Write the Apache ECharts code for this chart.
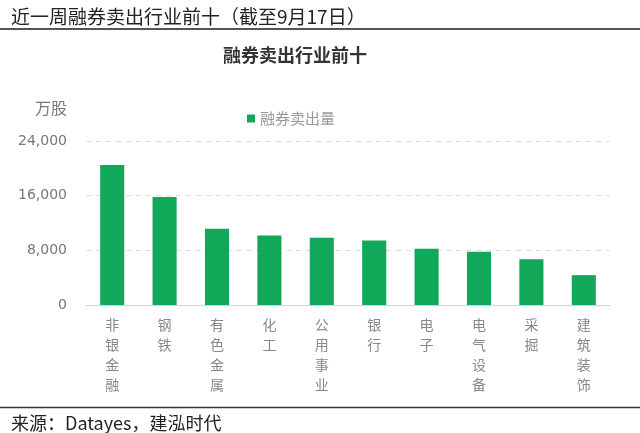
<!DOCTYPE html>
<html>
<head>
<meta charset="utf-8">
<script src="https://cdn.jsdelivr.net/npm/echarts@6/dist/echarts.min.js"></script>
<style>
  html, body { margin: 0; padding: 0; background: #fff; }
  #chart { width: 640px; height: 433px; }
</style>
</head>
<body>
<div id="chart"></div>
<script>
// 行业 / 融券卖出量（万股）
const industries = ['非银金融', '钢铁', '有色金属', '化工', '公用事业', '银行', '电子', '电气设备', '采掘', '建筑装饰'];
const shortSales = [20480, 15800, 11150, 10170, 9830, 9430, 8250, 7810, 6680, 4370];
const yTicks = [0, 8000, 16000, 24000];

const font = '"Noto Sans CJK SC", "Noto Sans", sans-serif';
const green = '#12a85a';

const chart = echarts.init(document.getElementById('chart'));
chart.setOption({
    animation: false,
    textStyle: { fontFamily: font },
    title: [
        {
            text: '近一周融券卖出行业前十（截至9月17日）',
            left: 6, top: 2,
            textStyle: { fontSize: 19, fontWeight: 'normal', color: '#222', fontFamily: font }
        },
        {
            text: '融券卖出行业前十',
            left: 218, top: 41,
            textStyle: { fontSize: 18, fontWeight: 'bold', color: '#333', fontFamily: font }
        },
        {
            text: '来源：Datayes，建泓时代',
            left: 6, top: 409,
            textStyle: { fontSize: 18, fontWeight: 'normal', color: '#222', fontFamily: font }
        }
    ],
    graphic: [
        { type: 'line', shape: { x1: 0, y1: 29, x2: 640, y2: 29 }, style: { stroke: '#555', lineWidth: 2 } },
        { type: 'line', shape: { x1: 0, y1: 407.5, x2: 640, y2: 407.5 }, style: { stroke: '#333', lineWidth: 1.5 } },
        {
            type: 'text', right: 573, top: 100,
            style: { text: '万股', fontSize: 16, fill: '#777', fontFamily: font }
        }
    ],
    legend: {
        left: 242, top: 106,
        icon: 'rect', itemWidth: 8, itemHeight: 8, itemGap: 7,
        textStyle: { fontSize: 15, color: '#999', fontFamily: font },
        data: ['融券卖出量']
    },
    grid: { left: 86, right: 30, top: 141, bottom: 128, containLabel: false },
    xAxis: {
        type: 'category',
        data: industries,
        axisLine: { lineStyle: { color: '#d4d4d4', width: 1 } },
        axisTick: { show: false },
        axisLabel: {
            interval: 0,
            margin: 10,
            fontSize: 14,
            lineHeight: 20,
            color: '#888',
            formatter: v => v.split('').join('\n')
        }
    },
    yAxis: {
        type: 'value',
        min: yTicks[0],
        max: yTicks[yTicks.length - 1],
        interval: yTicks[1] - yTicks[0],
        axisLine: { show: false },
        axisTick: { show: false },
        axisLabel: {
            margin: 19,
            fontSize: 14,
            color: '#777',
            fontFamily: '"DejaVu Sans", sans-serif',
            formatter: v => v.toLocaleString('en-US')
        },
        splitLine: { lineStyle: { color: '#dddddd', type: [5, 5] } }
    },
    series: [{
        name: '融券卖出量',
        type: 'bar',
        data: shortSales,
        barWidth: '46%',
        itemStyle: { color: green }
    }]
});
</script>
</body>
</html>
